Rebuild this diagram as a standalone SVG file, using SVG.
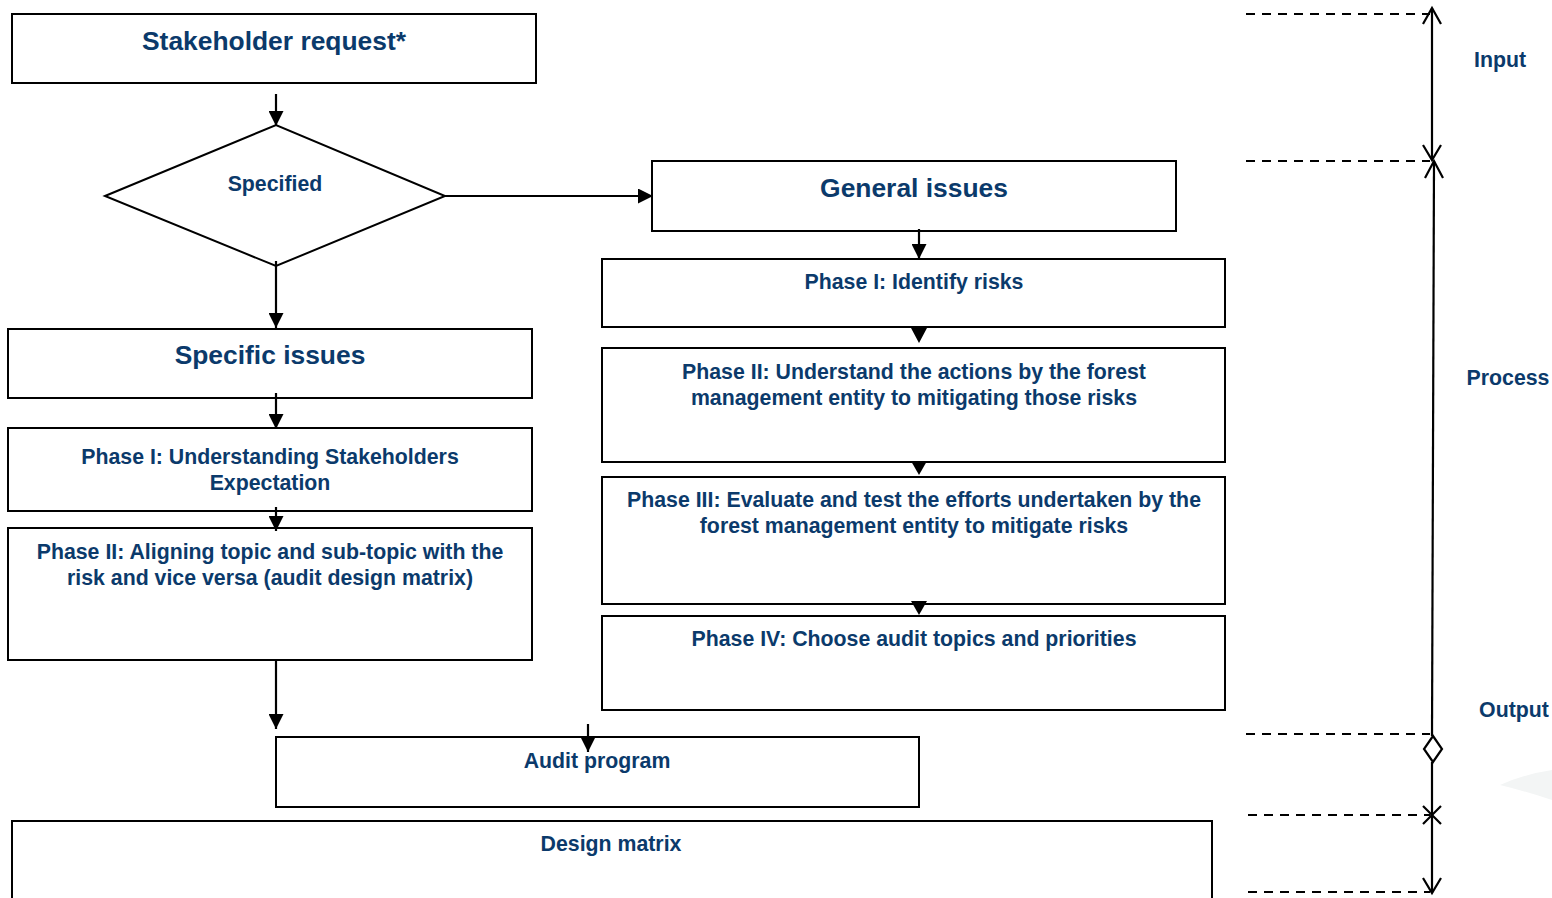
<svg xmlns="http://www.w3.org/2000/svg" width="1552" height="898" viewBox="0 0 1552 898">
<defs>
<style>
.box{fill:#fff;stroke:#000;stroke-width:2}
.t{font-family:"Liberation Sans",Arial,sans-serif;font-weight:bold;fill:#0b3a6b;text-anchor:middle}
.big{font-size:26.4px}
.mid{font-size:21.3px}
.ln{stroke:#000;stroke-width:2.2;fill:none}
.dash{stroke:#000;stroke-width:2;stroke-dasharray:9 7;fill:none}
.tri{fill:#000}
</style>
<marker id="ahb" viewBox="0 0 10 10" refX="10" refY="5" markerWidth="15" markerHeight="15" markerUnits="userSpaceOnUse" orient="auto">
<path d="M0,0 L10,5 L0,10 z" fill="#000"/>
</marker>
</defs>
<rect width="1552" height="898" fill="#fff"/>
<path d="M1500,785 Q1525,774 1552,770 L1552,800 Q1525,791 1500,785 z" fill="#f3f5f5"/>

<g id="stakeholder-request">
<rect class="box" x="12" y="14" width="524" height="69"/>
<text class="t big" x="274" y="50">Stakeholder request*</text>
</g>
<g id="specified">
<polygon class="box" points="105,196 276,125 445,196 276,266"/>
<text class="t mid" x="275" y="191">Specified</text>
</g>
<g id="general-issues">
<rect class="box" x="652" y="161" width="524" height="70"/>
<text class="t big" x="914" y="197">General issues</text>
</g>
<g id="g-phase1">
<rect class="box" x="602" y="259" width="623" height="68"/>
<text class="t mid" x="914" y="289">Phase I: Identify risks</text>
</g>
<g id="g-phase2">
<rect class="box" x="602" y="348" width="623" height="114"/>
<text class="t mid" x="914" y="379">Phase II: Understand the actions by the forest</text>
<text class="t mid" x="914" y="405">management entity to mitigating those risks</text>
</g>
<g id="g-phase3">
<rect class="box" x="602" y="477" width="623" height="127"/>
<text class="t mid" x="914" y="507">Phase III: Evaluate and test the efforts undertaken by the</text>
<text class="t mid" x="914" y="533">forest management entity to mitigate risks</text>
</g>
<g id="g-phase4">
<rect class="box" x="602" y="616" width="623" height="94"/>
<text class="t mid" x="914" y="646">Phase IV: Choose audit topics and priorities</text>
</g>
<g id="specific-issues">
<rect class="box" x="8" y="329" width="524" height="69"/>
<text class="t big" x="270" y="364">Specific issues</text>
</g>
<g id="s-phase1">
<rect class="box" x="8" y="428" width="524" height="83"/>
<text class="t mid" x="270" y="464">Phase I: Understanding Stakeholders</text>
<text class="t mid" x="270" y="490">Expectation</text>
</g>
<g id="s-phase2">
<rect class="box" x="8" y="528" width="524" height="132"/>
<text class="t mid" x="270" y="559">Phase II: Aligning topic and sub-topic with the</text>
<text class="t mid" x="270" y="585">risk and vice versa (audit design matrix)</text>
</g>
<g id="audit-program">
<rect class="box" x="276" y="737" width="643" height="70"/>
<text class="t mid" x="597" y="768">Audit program</text>
</g>
<g id="design-matrix">
<rect class="box" x="12" y="821" width="1200" height="90"/>
<text class="t mid" x="611" y="851">Design matrix</text>
</g>

<g id="connectors">
<line class="ln" x1="276" y1="94" x2="276" y2="126" marker-end="url(#ahb)"/>
<line class="ln" x1="445" y1="196" x2="653" y2="196" marker-end="url(#ahb)"/>
<line class="ln" x1="276" y1="261" x2="276" y2="328" marker-end="url(#ahb)"/>
<line class="ln" x1="276" y1="393" x2="276" y2="429" marker-end="url(#ahb)"/>
<line class="ln" x1="276" y1="507" x2="276" y2="531" marker-end="url(#ahb)"/>
<line class="ln" x1="276" y1="660" x2="276" y2="729" marker-end="url(#ahb)"/>
<line class="ln" x1="588" y1="724" x2="588" y2="752" marker-end="url(#ahb)"/>
<line class="ln" x1="919" y1="229" x2="919" y2="259" marker-end="url(#ahb)"/>
<polygon class="tri" points="911,328 927,328 919,343"/>
<polygon class="tri" points="911,461 927,461 919,475"/>
<polygon class="tri" points="911,601 927,601 919,615"/>

<line class="dash" x1="1246" y1="14" x2="1430" y2="14"/>
<line class="dash" x1="1246" y1="161" x2="1430" y2="161"/>
<line class="dash" x1="1246" y1="734" x2="1430" y2="734"/>
<line class="dash" x1="1248" y1="815" x2="1430" y2="815"/>
<line class="dash" x1="1248" y1="892" x2="1430" y2="892"/>

<line class="ln" x1="1432" y1="8" x2="1432" y2="160"/>
<polyline class="ln" points="1423,24 1432,8 1441,24"/>
<polyline class="ln" points="1423,145 1432,160 1441,145"/>
<line class="ln" x1="1434" y1="161" x2="1432" y2="736"/>
<polyline class="ln" points="1425,178 1434,161 1443,178"/>
<polygon class="ln" points="1433,736 1442,749 1433,762 1424,749" stroke-width="2.6"/>
<line class="ln" x1="1432" y1="762" x2="1432" y2="893"/>
<polyline class="ln" points="1423,806 1432,815 1441,806"/>
<polyline class="ln" points="1423,824 1432,815 1441,824"/>
<polyline class="ln" points="1423,878 1432,893 1441,878"/>
</g>

<g id="labels">
<text class="t mid" x="1500" y="67">Input</text>
<text class="t mid" x="1508" y="385">Process</text>
<text class="t mid" x="1514" y="717">Output</text>
</g>
</svg>
